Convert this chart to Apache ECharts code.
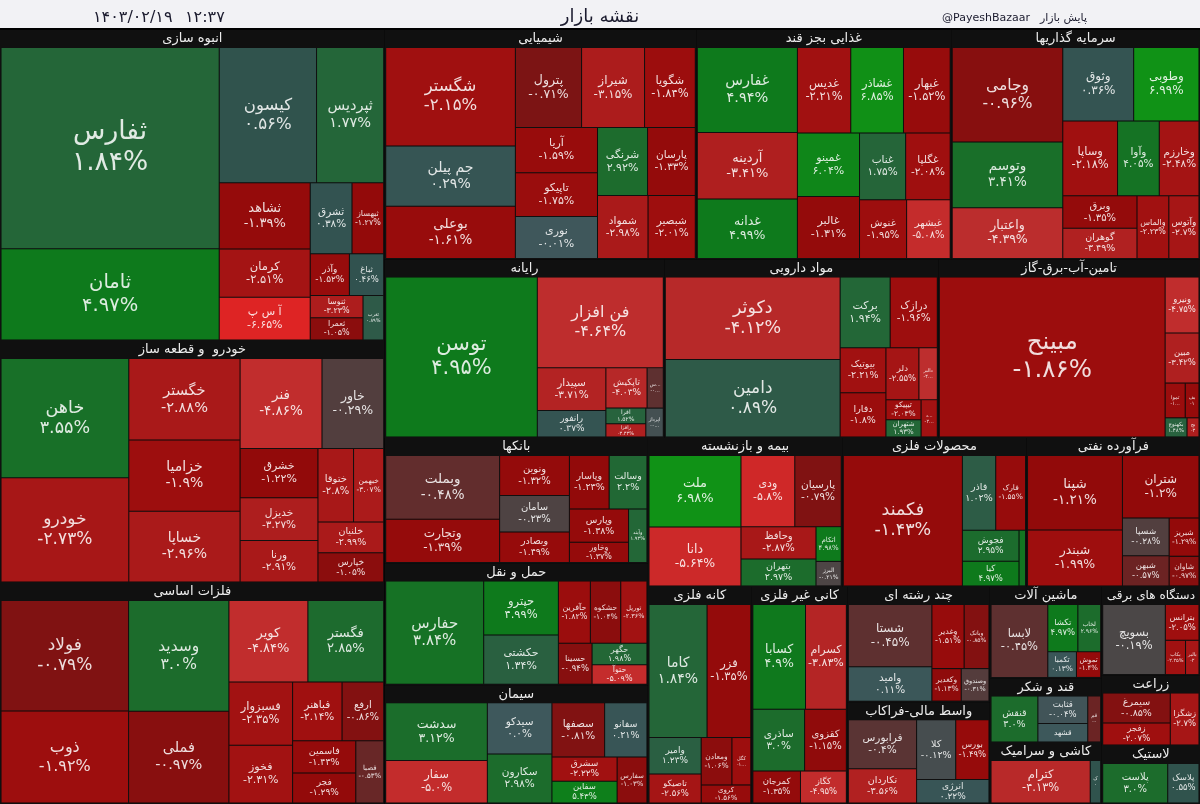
<!DOCTYPE html>
<html>
<head>
<meta charset="utf-8">
<script src="https://cdn.jsdelivr.net/npm/echarts@6/dist/echarts.min.js"></script>
<style>
html,body{margin:0;padding:0;background:#000;}
#c{width:1200px;height:804px;}
</style>
</head>
<body>
<div id="c"></div>
<script>
// ---------------- DATA ----------------
const mapTitle = 'نقشه بازار';
const mapDate = '۱۴۰۳/۰۲/۱۹';
const mapTime = '۱۲:۳۷';
const mapHandle = '@PayeshBazaar';
const mapSource = 'پایش بازار';

const sectorNames = ['انبوه سازی', 'خودرو  و قطعه ساز', 'فلزات اساسی', 'شیمیایی', 'غذایی بجز قند', 'سرمایه گذاریها',
  'رایانه', 'مواد دارویی', 'تامین-آب-برق-گاز', 'بانکها', 'حمل و نقل', 'سیمان', 'بیمه و بازنشسته', 'محصولات فلزی',
  'فرآورده نفتی', 'کانه فلزی', 'کانی غیر فلزی', 'چند رشته ای', 'واسط مالی-فراکاب', 'ماشین آلات', 'قند و شکر',
  'کاشی و سرامیک', 'دستگاه های برقی', 'زراعت', 'لاستیک'];
// sector sizes (relative market value)
const sectorSizes = [119.4, 92.9, 84.9, 71.4, 58.4, 57.0, 49.8, 48.8, 46.6, 33.0, 32.0, 31.2, 28.9, 27.4, 25.8,
  22.5, 20.7, 16.4, 14.5, 10.2, 7.2, 6.8, 8.7, 6.9, 5.7];

// [symbol, size, change %]
const stAnbooh = [['ثفارس', 43.0, 1.84], ['ثامان', 19.5, 4.97], ['کیسون', 12.9, 0.56], ['ثپردیس', 8.9, 1.77],
  ['ثشاهد', 5.9, -1.39], ['کرمان', 4.3, -2.51], ['آ س پ', 3.8, -6.65], ['ثشرق', 2.9, 0.38], ['ثبهساز', 2.2, -1.27],
  ['وآذر', 1.6, -1.52], ['ثباغ', 1.4, 0.46], ['ثنوسا', 1.15, -3.23], ['ثعمرا', 1.15, -1.05], ['ثغرب', 0.9, 0.89]];
const stKhodro = [['خاهن', 15.1, 3.55], ['خودرو', 13.2, -2.73], ['خگستر', 9.0, -2.88], ['خزامیا', 7.85, -1.9],
  ['خساپا', 7.8, -2.96], ['فنر', 7.3, -4.86], ['خاور', 5.5, -0.29], ['خشرق', 3.8, -1.22], ['خدیزل', 3.3, -3.27],
  ['ورنا', 3.2, -2.91], ['ختوقا', 2.6, -2.8], ['خبهمن', 2.2, -3.07], ['خلنیان', 2.0, -2.99], ['خپارس', 1.9, -1.05]];
const stFelezat = [['فولاد', 13.8, -0.79], ['ذوب', 11.5, -1.92], ['وسدید', 10.9, 3.0], ['فملی', 9.0, -0.97],
  ['کویر', 6.3, -4.84], ['فگستر', 6.05, 2.85], ['فسبزوار', 3.95, -2.35], ['فخوز', 3.6, -2.31], ['فباهنر', 2.85, -2.14],
  ['ارفع', 2.4, -0.86], ['فاسمین', 2.0, -1.43], ['فجر', 1.85, -1.29], ['فصبا', 1.7, -0.53]];
const stShimiaei = [['شگستر', 12.4, -2.15], ['جم پیلن', 7.6, 0.29], ['بوعلی', 6.6, -1.61], ['پترول', 5.15, -0.71],
  ['شیراز', 4.9, -3.15], ['شگویا', 3.95, -1.84], ['آریا', 3.6, -1.59], ['تاپیکو', 3.5, -1.75], ['نوری', 3.35, -0.01],
  ['شرنگی', 3.3, 2.92], ['پارسان', 3.15, -1.33], ['شمواد', 3.1, -2.98], ['شبصیر', 2.9, -2.01]];
const stGhazaei = [['غفارس', 8.3, 4.94], ['آردینه', 6.5, -3.41], ['غدانه', 5.8, 4.99], ['غدیس', 4.45, -2.21],
  ['غشاذر', 4.4, 6.85], ['غبهار', 3.9, -1.52], ['غمینو', 3.85, 6.04], ['غالبر', 3.75, -1.31], ['غناب', 3.0, 1.75],
  ['غگلپا', 2.9, -2.08], ['غنوش', 2.7, -1.95], ['غبشهر', 2.5, -5.08]];
const stSarmaye = [['وجامی', 10.2, -0.96], ['وتوسم', 7.1, 3.41], ['واعتبار', 5.5, -4.39], ['وثوق', 5.1, 0.36],
  ['وطوبی', 4.7, 6.99], ['وساپا', 4.0, -2.18], ['وآوا', 3.05, 4.05], ['وخارزم', 2.9, -2.48], ['وبرق', 2.35, -1.35],
  ['گوهران', 2.2, -3.49], ['والماس', 1.95, -2.23], ['وآتوس', 1.85, -2.7]];
const stRayane = [['توسن', 24.0, 4.95], ['فن افزار', 11.3, -4.64], ['سپیدار', 2.9, -3.71], ['رانفور', 1.8, 0.37],
  ['تاپکیش', 1.65, -4.03], ['سیستم', 0.65, -0.45], ['افرا', 0.62, 1.52], ['رافزا', 0.52, -3.43], ['اپرداز', 0.5, -0.09]];
const stDaroei = [['دکوثر', 14.3, -4.12], ['دامین', 13.4, 0.89], ['برکت', 3.5, 1.94], ['درازک', 3.3, -1.96],
  ['بیوتیک', 2.05, -2.21], ['دفارا', 2.0, -1.8], ['دلر', 1.7, -2.55], ['دالبر', 0.95, -4.54], ['تیپیکو', 0.7, -2.03],
  ['شتهران', 0.6, 1.93], ['دشیمی', 0.6, -2.35]];
const stTamin = [['مبینح', 36.2, -1.86], ['ونیرو', 1.9, -4.75], ['مبین', 1.7, -3.42], ['تموا', 0.7, -1.74],
  ['بفجر', 0.48, -1.49], ['بکهنوج', 0.42, 1.48], ['بجهرم', 0.23, -3.33]];
const stBank = [['وبملت', 7.0, -0.48], ['وتجارت', 4.75, -1.39], ['ونوین', 2.7, -1.32], ['سامان', 2.45, -0.23],
  ['وبصادر', 2.05, -1.49], ['وپاسار', 2.05, -1.23], ['وسالت', 1.95, 2.2], ['وپارس', 1.9, -1.38], ['وخاور', 1.15, -1.37],
  ['وآیند', 0.95, 1.93]];
const stHaml = [['حفارس', 9.9, 3.84], ['حپترو', 3.95, 4.99], ['حکشتی', 3.6, 1.34], ['حآفرین', 1.95, -1.82],
  ['حشکوه', 1.85, -1.04], ['توریل', 1.6, -2.36], ['حسینا', 1.35, -0.94], ['حگهر', 1.15, 1.98], ['حتوآ', 1.05, -5.09]];
const stSiman = [['سدشت', 5.75, 3.12], ['سفار', 4.25, -5.0], ['سیدکو', 3.25, 0.0], ['سکارون', 3.1, 2.98],
  ['سصفها', 2.8, -0.81], ['سفانو', 2.25, 0.21], ['سشرق', 1.55, -2.22], ['سفاین', 1.4, 5.43], ['سفارس', 1.35, -1.03]];
const stBime = [['ملت', 6.35, 6.98], ['دانا', 5.25, -5.64], ['ودی', 3.7, -5.8], ['پارسیان', 3.2, -0.79],
  ['وحافظ', 2.35, -2.87], ['بتهران', 1.95, 2.97], ['اتکام', 0.85, 4.98], ['البرز', 0.6, -0.21]];
const stMahsoolat = [['فکمند', 15.0, -1.43], ['فاذر', 2.4, 1.02], ['فارک', 2.15, -1.55], ['فجوش', 1.7, 2.95],
  ['کیا', 1.35, 4.97], ['فلامی', 0.35, 4.35]];
const stFaravarde = [['شپنا', 6.8, -1.21], ['شبندر', 5.1, -1.99], ['شتران', 4.6, -1.2], ['شسپا', 1.7, -0.28],
  ['شبهن', 1.35, -0.57], ['شبریز', 1.1, -1.29], ['شاوان', 0.85, -0.97]];
const stKane = [['کاما', 6.9, 1.84], ['فزر', 5.2, -1.35], ['وامیر', 1.7, 1.23], ['تاصیکو', 1.35, -2.56],
  ['ومعادن', 1.3, -1.06], ['کگل', 0.8, -1.94], ['کروی', 0.8, -1.56]];
const stKani = [['کسابا', 4.9, 4.9], ['کسرام', 3.8, -3.83], ['ساذری', 2.85, 3.0], ['کقزوی', 2.3, -1.15],
  ['کمرجان', 1.35, -1.35], ['کگاز', 1.3, -4.95]];
const stChand = [['شستا', 4.9, -0.45], ['واميد', 2.7, 0.11], ['وغدیر', 1.95, -1.51], ['وبانک', 1.5, -0.85],
  ['وکغدیر', 0.9, -1.13], ['وصندوق', 0.85, -0.31]];
const stVaset = [['فرابورس', 3.35, -0.4], ['تکاردان', 2.35, -3.56], ['کلا', 2.35, -0.12], ['بورس', 2.0, -1.49],
  ['انرژی', 1.7, 0.22]];
const stMashin = [['لابسا', 3.65, -0.45], ['تکشا', 1.25, 4.97], ['لخاب', 0.95, 2.96], ['تکمبا', 0.65, 0.13],
  ['تموش', 0.55, -1.4]];
const stGhand = [['قنقش', 2.35, 3.0], ['قثابت', 1.5, -0.04], ['قشهد', 1.0, 0.04], ['قمرو', 0.65, -0.56]];
const stKashi = [['کترام', 4.75, -4.13], ['کسعدی', 0.5, 0.55]];
const stDastgah = [['بسویچ', 4.0, -0.19], ['بترانس', 1.1, -2.05], ['بکاب', 0.63, -2.25], ['بالبر', 0.42, -2.63]];
const stZeraat = [['سیمرغ', 2.1, -0.85], ['زفجر', 1.55, -2.07], ['زشگزا', 1.55, -2.7]];
const stLastik = [['پلاست', 2.7, 3.0], ['پلاسک', 1.3, 0.55]];

const sectorStocks = [stAnbooh, stKhodro, stFelezat, stShimiaei, stGhazaei, stSarmaye, stRayane, stDaroei, stTamin,
  stBank, stHaml, stSiman, stBime, stMahsoolat, stFaravarde, stKane, stKani, stChand, stVaset, stMashin, stGhand,
  stKashi, stDastgah, stZeraat, stLastik];

// grouping of sectors into unlabeled blocks (order / nesting only; the library computes all rectangles)
const blockTree = [[[0, 1], 2], [[3, 4, 5], [[6, 7, 8], [[[9, 10], 11], [[12, 13, 14],
  [[15, 16], [17, 18], [[[19, 20], 21], [[22, 23], 24]]]]]]]];

// ---------------- STYLE ----------------
const FONT = '"DejaVu Sans", "Noto Sans", sans-serif';
const LRE = '\u202A', PDF = '\u202C';
const colorStops = [[-7, [228, 34, 34]], [-5.5, [202, 42, 42]], [-4.5, [188, 46, 46]], [-3, [170, 26, 26]],
  [-2, [158, 14, 14]], [-1.2, [146, 10, 10]], [-0.7, [124, 20, 20]], [-0.45, [94, 48, 48]], [-0.2, [76, 70, 70]],
  [0, [62, 88, 92]], [0.5, [48, 82, 78]], [1.0, [45, 92, 70]], [1.8, [36, 102, 56]], [3.0, [28, 108, 44]],
  [5.0, [14, 122, 28]], [7.0, [16, 146, 22]]];

function pctRGB(p) {
  if (p <= colorStops[0][0]) return colorStops[0][1];
  for (let i = 1; i < colorStops.length; i++) {
    if (p <= colorStops[i][0]) {
      const [p0, c0] = colorStops[i - 1], [p1, c1] = colorStops[i];
      const t = (p - p0) / (p1 - p0);
      return c0.map((v, k) => Math.round(v + (c1[k] - v) * t));
    }
  }
  return colorStops[colorStops.length - 1][1];
}
function rgb(c) { return 'rgb(' + c.join(',') + ')'; }
function textRGB(c) { return c.map(v => Math.round(v * 0.14 + 255 * 0.86)); }
function toFa(s) { return s.replace(/\d/g, d => '۰۱۲۳۴۵۶۷۸۹'[d]); }
function fmtPct(v) { return toFa(Number.isInteger(v) ? v.toFixed(1) : String(v)) + '%'; }

function buildSector(i, sz) {
  const leaves = sectorStocks[i].map(([name, size, pct]) => {
    const c = pctRGB(pct);
    const item = { name: name, value: size, pct: pct, itemStyle: { color: rgb(c) },
      label: { color: rgb(textRGB(c)) } };
    if (sz && sz.leaf[name]) {
      item.label.fontSize = sz.leaf[name];
      item.label.lineHeight = Math.round(sz.leaf[name] * 1.16);
    }
    return item;
  }).sort((a, b) => b.value - a.value);
  const hfs = (sz && sz.head[sectorNames[i]]) || 13;
  return {
    name: sectorNames[i], value: sectorSizes[i],
    itemStyle: { color: '#121212', borderColor: '#101010', borderWidth: 1.5, gapWidth: 1 },
    upperLabel: { show: true, height: 18, position: 'inside', color: '#ececec', fontSize: hfs, fontFamily: FONT },
    children: leaves
  };
}
function buildNode(b, sz) {
  if (typeof b === 'number') return buildSector(b, sz);
  return { name: '', itemStyle: { color: '#000', borderColor: '#000', borderWidth: 0, gapWidth: 0 },
    children: b.map(x => buildNode(x, sz)) };
}

function makeOption(sz) {
  const ts = (fs) => ({ fontSize: fs, fontWeight: 'normal', color: '#1b1b2e', fontFamily: FONT });
  return {
    backgroundColor: '#000',
    animation: false,
    textStyle: { fontFamily: FONT },
    graphic: [{ type: 'rect', z: 0, shape: { x: 0, y: 0, width: 1200, height: 28 }, style: { fill: '#f2f2f5' } }],
    title: [
      { text: mapTitle, left: 'center', top: 3, z: 10, textStyle: ts(18) },
      { text: mapDate, left: 88, top: 5, z: 10, textStyle: ts(16) },
      { text: mapTime, left: 180, top: 5, z: 10, textStyle: ts(16) },
      { text: mapHandle, right: 165, top: 8, z: 10, textStyle: ts(11) },
      { text: mapSource, right: 108, top: 8, z: 10, textStyle: ts(11) }
    ],
    series: [{
      type: 'treemap',
      left: 0, top: 30, width: 1200, height: 774,
      squareRatio: 1.53,
      sort: false,
      roam: false,
      nodeClick: false,
      breadcrumb: { show: false },
      visibleMin: 1,
      emphasis: { disabled: true },
      itemStyle: { borderWidth: 0, gapWidth: 0, borderColor: '#000' },
      upperLabel: { show: false },
      label: {
        show: true, position: 'inside', padding: [0, 1], fontFamily: FONT, fontSize: 10,
        overflow: 'truncate', align: 'center', verticalAlign: 'middle',
        formatter: p => p.name + '\n' + LRE + fmtPct(p.data.pct) + PDF
      },
      data: blockTree.map(b => buildNode(b, sz))
    }]
  };
}

const chart = echarts.init(document.getElementById('c'), null, { renderer: 'canvas' });
chart.setOption(makeOption(null), true);

// fit label sizes to the rectangles the library laid out
function computeSizes() {
  const sz = { leaf: {}, head: {} };
  try {
    const tree = chart.getModel().getSeriesByIndex(0).getData().tree;
    const ctx = document.createElement('canvas').getContext('2d');
    tree.root.eachNode(function (node) {
      const lay = node.getLayout();
      if (!lay || !lay.width || !lay.height) return;
      const opt = node.getModel().option || {};
      const w = lay.width, h = lay.height;
      if (node.children && node.children.length) {
        if (sectorNames.indexOf(node.name) >= 0) {
          let fs = 13;
          ctx.font = fs + 'px ' + FONT;
          const tw = ctx.measureText(node.name).width;
          if (tw > w - 8) fs = Math.max(9, Math.floor(fs * (w - 8) / tw * 2) / 2);
          sz.head[node.name] = fs;
        }
        return;
      }
      if (opt.pct === undefined) return;
      let fs = Math.min(5 + 0.105 * Math.sqrt(w * h), 27, h / 2.3);
      ctx.font = fs + 'px ' + FONT;
      const tw = Math.max(ctx.measureText(node.name).width, ctx.measureText(fmtPct(opt.pct)).width);
      if (tw > w - 4) fs = fs * (w - 4) / tw;
      sz.leaf[node.name] = Math.max(5, Math.floor(fs * 2) / 2);
    });
  } catch (e) { console.log(e); }
  return sz;
}
chart.setOption(makeOption(computeSizes()), true);
</script>
</body>
</html>
